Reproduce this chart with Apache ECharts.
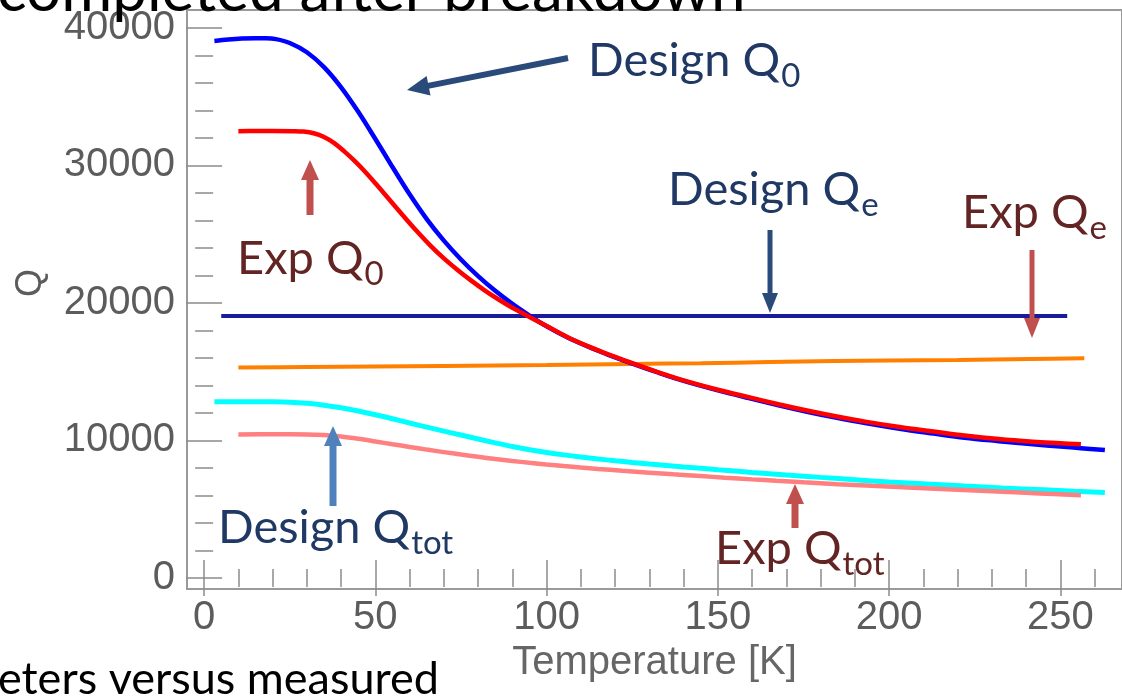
<!DOCTYPE html>
<html>
<head>
<meta charset="utf-8">
<script src="https://cdn.jsdelivr.net/npm/echarts@6/dist/echarts.min.js"></script>
<style>
html,body{margin:0;padding:0;background:#fff;}
#chart{width:1122px;height:699px;}
</style>
</head>
<body>
<div id="chart"></div>
<script>
// ---- data (Temperature [K], Q) ----
const designQ0 = [[3,39050],[7,39150],[11,39220],[15,39250],[18,39245],[21,39180],[25,38900],[30,38230],[35,37150],[40,35680],[45,33900],[50,31920],[55,29880],[60,27900],[65,26100],[70,24530],[75,23160],[80,21950],[85,20880],[90,19930],[95,19080],[100,18300],[106,17500],[112,16830],[118,16230],[124,15680],[132,14980],[140,14330],[150,13640],[159,13080],[168,12540],[176,12090],[184,11680],[193,11260],[203,10850],[213,10500],[222,10200],[232,9950],[242,9720],[250,9560],[256,9440],[263,9300]];
const expQ0 = [[10,32490],[15,32500],[20,32500],[26,32490],[29,32460],[32,32340],[35,32070],[38,31620],[41,31000],[44,30310],[47,29540],[50,28700],[54,27540],[58,26380],[62,25250],[66,24190],[70,23240],[74,22400],[78,21620],[82,20900],[86,20250],[90,19650],[95,18980],[100,18320],[106,17530],[112,16860],[118,16260],[124,15710],[132,15010],[140,14370],[150,13690],[159,13150],[168,12620],[176,12180],[184,11780],[193,11370],[203,10980],[213,10650],[222,10360],[232,10100],[242,9910],[250,9800],[256,9720]];
const designQe = [[5,19050],[252,19050]];
const expQe = [[10,15310],[30,15340],[50,15380],[70,15420],[100,15480],[125,15560],[145,15620],[165,15700],[184,15770],[200,15820],[220,15860],[241,15920],[257,15970]];
const designQtot = [[3,12810],[10,12820],[20,12810],[25,12785],[30,12705],[35,12568],[40,12378],[45,12143],[50,11873],[55,11578],[60,11271],[65,10971],[70,10679],[75,10394],[80,10104],[85,9824],[90,9561],[95,9326],[100,9126],[105,8951],[110,8801],[115,8656],[120,8526],[125,8406],[130,8293],[140,8078],[150,7873],[160,7678],[170,7493],[180,7316],[190,7146],[200,6981],[211,6830],[222,6688],[233,6550],[245,6410],[254,6310],[263,6215]];
const expQtot = [[10,10440],[20,10450],[30,10440],[35,10390],[40,10282],[45,10119],[50,9926],[55,9726],[60,9530],[65,9336],[70,9154],[75,8976],[80,8812],[85,8656],[90,8512],[95,8376],[100,8252],[105,8136],[110,8030],[115,7931],[122,7800],[130,7661],[137,7540],[145,7410],[152,7296],[160,7171],[167,7068],[175,6955],[185,6823],[195,6700],[207,6558],[220,6410],[230,6300],[240,6192],[248,6108],[256,6025]];

const xMajorTicks = [0,50,100,150,200,250];
const xMinorTicks = [10,20,30,40,60,70,80,90,110,120,130,140,160,170,180,190,210,220,230,240,260];
const yMajorTicks = [0,10000,20000,30000,40000];
const yMinorTicks = [2000,4000,6000,8000,12000,14000,16000,18000,22000,24000,26000,28000,32000,34000,36000,38000];

const xName = 'Temperature [K]';
const yName = 'Q';

// ---- chart ----
const chart = echarts.init(document.getElementById('chart'));
const X_MIN = -5, X_MAX = 268, Y_MIN = -800, Y_MAX = 41300;
const tickColor = '#8c8c8c';
const labelColor = '#5c5c5c';
const labelFont = 'Liberation Sans';
const plainNum = v => String(Math.round(v));

function xAx(pos, ticks, len, labels, extra) {
  return Object.assign({
    type: 'value', position: pos, min: X_MIN, max: X_MAX,
    axisLine: {show: false},
    splitLine: {show: false},
    axisTick: {show: true, inside: true, length: len, customValues: ticks, lineStyle: {color: tickColor, width: 1.5}},
    axisLabel: labels ? {show: true, customValues: ticks, formatter: plainNum, fontSize: 40, fontFamily: labelFont, color: labelColor, margin: 9} : {show: false}
  }, extra || {});
}
function yAx(pos, ticks, len, labels) {
  return {
    type: 'value', position: pos, min: Y_MIN, max: Y_MAX,
    axisLine: {show: false},
    splitLine: {show: false},
    axisTick: {show: true, inside: true, length: len, customValues: ticks, lineStyle: {color: tickColor, width: 1.5}},
    axisLabel: labels ? {show: true, customValues: ticks, formatter: plainNum, fontSize: 40, fontFamily: labelFont, color: labelColor, margin: 12} : {show: false}
  };
}

const navy = '#1f3864';
const dred = '#632523';
const annFont = 'Lato';
const MAIN = 47, SUB = 33;
const measureCtx = document.createElement('canvas').getContext('2d');
function textWidth(s, size, family) {
  measureCtx.font = size + 'px "' + family + '"';
  return measureCtx.measureText(s).width;
}

function arrow(x1, y1, x2, y2, color, w, hl, hw) {
  const dx = x2 - x1, dy = y2 - y1, L = Math.sqrt(dx*dx + dy*dy);
  const ux = dx / L, uy = dy / L, px = -uy, py = ux;
  const bx = x2 - ux*hl, by = y2 - uy*hl;
  return [
    {type: 'line', shape: {x1: x1, y1: y1, x2: bx + ux*2, y2: by + uy*2}, style: {stroke: color, lineWidth: w}, z: 100},
    {type: 'polygon', shape: {points: [[x2, y2], [bx + px*hw/2, by + py*hw/2], [bx - px*hw/2, by - py*hw/2]]}, style: {fill: color}, z: 100}
  ];
}
function txt(x, baseline, s, size, color, family) {
  return {type: 'text', x: x, y: baseline - 0.34*size, z: 100,
    style: {text: s, font: size + 'px "' + (family || annFont) + '"', fill: color, verticalAlign: 'middle', align: 'left'}};
}
function ann(x, baseline, main, sub, color) {
  const w = textWidth(main, MAIN, annFont);
  return [txt(x, baseline, main, MAIN, color), txt(x + w + 1, baseline + 11, sub, SUB, color)];
}

const graphics = [].concat(
  [txt(-3, 12, 'completed after breakdown', 62, '#000')],
  [txt(-2, 695, 'eters versus measured', 45, '#000')],
  [{type: 'text', x: 31, y: 283, rotation: Math.PI/2, z: 100,
    style: {text: yName, font: '36px "Liberation Sans"', fill: labelColor, align: 'center', verticalAlign: 'middle'}}],
  ann(588, 77, 'Design Q', '0', navy),
  arrow(568, 58, 407, 90, '#2a4a7a', 6, 22, 20),
  ann(668, 206, 'Design Q', 'e', navy),
  arrow(770, 230, 770, 313, '#2a4a7a', 5, 20, 16),
  ann(962, 229, 'Exp Q', 'e', dred),
  arrow(1032, 250, 1032, 338, '#c0504d', 5, 20, 16),
  ann(237, 275, 'Exp Q', '0', dred),
  arrow(310, 215, 310, 160, '#c0504d', 7, 20, 18),
  ann(218, 544, 'Design Q', 'tot', navy),
  arrow(333, 506, 333, 426, '#4f81bd', 7, 20, 18),
  ann(715, 565, 'Exp Q', 'tot', dred),
  arrow(795, 528, 795, 484, '#c0504d', 7, 20, 18)
);

function line(name, data, color, width, z) {
  return {type: 'line', name: name, data: data, xAxisIndex: 0, yAxisIndex: 0,
    showSymbol: false, symbol: 'none', smooth: 0.35,
    lineStyle: {color: color, width: width}, z: z, animation: false};
}

chart.setOption({
  animation: false,
  backgroundColor: '#fff',
  grid: {left: 187, top: 10, width: 937, height: 579, show: true, borderColor: '#9a9a9a', borderWidth: 2, containLabel: false},
  xAxis: [
    xAx('bottom', xMajorTicks, 18, true, {name: xName, nameLocation: 'middle', nameGap: 36,
      nameTextStyle: {fontSize: 40, fontFamily: labelFont, color: '#666'}}),
    xAx('bottom', xMinorTicks, 9, false),
    xAx('top', xMajorTicks, 18, false),
    xAx('top', xMinorTicks, 9, false)
  ],
  yAxis: [
    yAx('left', yMajorTicks, 18, true),
    yAx('left', yMinorTicks, 9, false),
    yAx('right', yMajorTicks, 18, false),
    yAx('right', yMinorTicks, 9, false)
  ],
  series: [
    line('Design Qe', designQe, '#1a1a9c', 4, 2),
    line('Exp Qe', expQe, '#ff8000', 4, 3),
    line('Design Q0', designQ0, '#0000ff', 4.5, 4),
    line('Exp Q0', expQ0, '#ff0000', 4.5, 5),
    line('Design Qtot', designQtot, '#00ffff', 5, 6),
    line('Exp Qtot', expQtot, '#ff8080', 4.5, 7)
  ],
  graphic: graphics
});
</script>
</body>
</html>
